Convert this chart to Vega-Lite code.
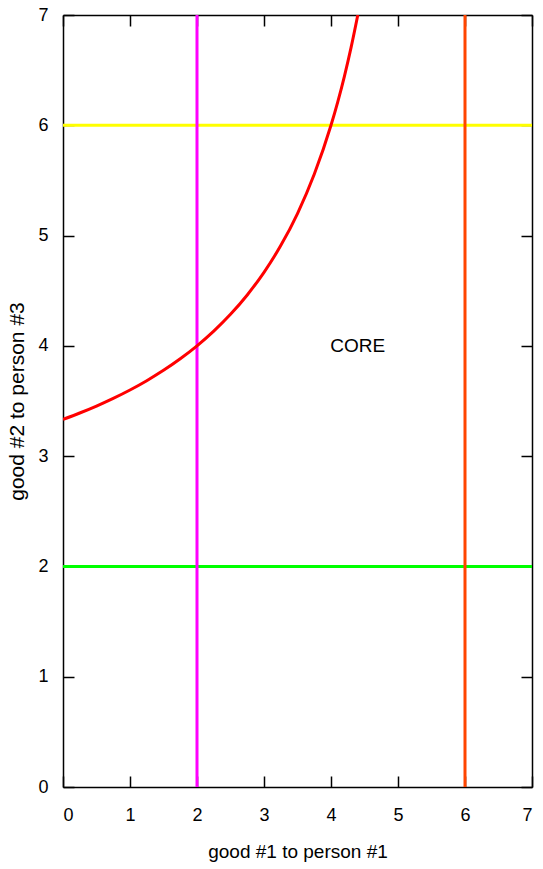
{
  "$schema": "https://vega.github.io/schema/vega-lite/v6.json",
  "width": 469,
  "height": 772,
  "autosize": "none",
  "padding": {"left": 63, "top": 15, "right": 11, "bottom": 82},
  "background": "white",
  "config": {
    "view": {"stroke": null},
    "axis": {
      "grid": false,
      "labelFont": "Liberation Sans",
      "titleFont": "Liberation Sans",
      "labelColor": "black",
      "titleColor": "black",
      "domainColor": "black",
      "tickColor": "black",
      "domainWidth": 1.5,
      "tickWidth": 1.5,
      "labelFontSize": 18,
      "titleFontWeight": "normal",
      "zindex": 2
    }
  },
  "datasets": {
    "curve": [
      {"x": 0, "y": 3.3333}, {"x": 0.25, "y": 3.3913}, {"x": 0.5, "y": 3.4545},
      {"x": 0.75, "y": 3.5238}, {"x": 1, "y": 3.6}, {"x": 1.25, "y": 3.6842},
      {"x": 1.5, "y": 3.7778}, {"x": 1.75, "y": 3.8824}, {"x": 2, "y": 4},
      {"x": 2.25, "y": 4.1333}, {"x": 2.5, "y": 4.2857}, {"x": 2.75, "y": 4.4615},
      {"x": 3, "y": 4.6667}, {"x": 3.25, "y": 4.9091}, {"x": 3.5, "y": 5.2},
      {"x": 3.75, "y": 5.5556}, {"x": 4, "y": 6}, {"x": 4.1, "y": 6.2105},
      {"x": 4.2, "y": 6.4444}, {"x": 4.3, "y": 6.7059}, {"x": 4.4, "y": 7}
    ],
    "hlines": [{"name": "yellow", "y": 6}, {"name": "green", "y": 2}],
    "vlines": [{"name": "magenta", "x": 2}, {"name": "orange", "x": 6}],
    "labels": [{"label": "CORE", "x": 4.4, "y": 4}]
  },
  "layer": [
    {
      "data": {"name": "hlines"},
      "mark": {"type": "rule", "strokeWidth": 3},
      "encoding": {
        "y": {"field": "y", "type": "quantitative", "scale": {"domain": [0, 7], "nice": false},
          "axis": {"orient": "right", "labels": false, "title": null, "values": [0,1,2,3,4,5,6,7], "tickSize": -11, "domain": true}},
        "color": {"field": "name", "type": "nominal", "legend": null,
          "scale": {"domain": ["yellow", "green", "magenta", "orange"], "range": ["#ffff00", "#00ff00", "#ff00ff", "#ff4500"]}}
      }
    },
    {
      "data": {"name": "vlines"},
      "mark": {"type": "rule", "strokeWidth": 3},
      "encoding": {
        "x": {"field": "x", "type": "quantitative", "scale": {"domain": [0, 7], "nice": false},
          "axis": {"orient": "top", "labels": false, "title": null, "values": [0,1,2,3,4,5,6,7], "tickSize": -11, "domain": true}},
        "color": {"field": "name", "type": "nominal", "legend": null}
      }
    },
    {
      "data": {"name": "curve"},
      "mark": {"type": "line", "color": "#ff0000", "strokeWidth": 3, "clip": true, "interpolate": "monotone"},
      "encoding": {
        "x": {"field": "x", "type": "quantitative", "scale": {"domain": [0, 7], "nice": false},
          "axis": {"orient": "bottom", "title": "good #1 to person #1", "values": [0,1,2,3,4,5,6,7], "tickSize": -11, "labelPadding": 30, "titleFontSize": 19, "titlePadding": 18}},
        "y": {"field": "y", "type": "quantitative", "scale": {"domain": [0, 7], "nice": false},
          "axis": {"orient": "left", "title": "good #2 to person #3", "values": [0,1,2,3,4,5,6,7], "tickSize": -11, "labelPadding": 26, "titleFontSize": 21, "titlePadding": 10}}
      }
    },
    {
      "data": {"name": "labels"},
      "mark": {"type": "text", "font": "Liberation Sans", "fontSize": 19, "color": "black"},
      "encoding": {
        "x": {"field": "x", "type": "quantitative", "axis": null},
        "y": {"field": "y", "type": "quantitative", "axis": null},
        "text": {"field": "label"}
      }
    }
  ]
}
